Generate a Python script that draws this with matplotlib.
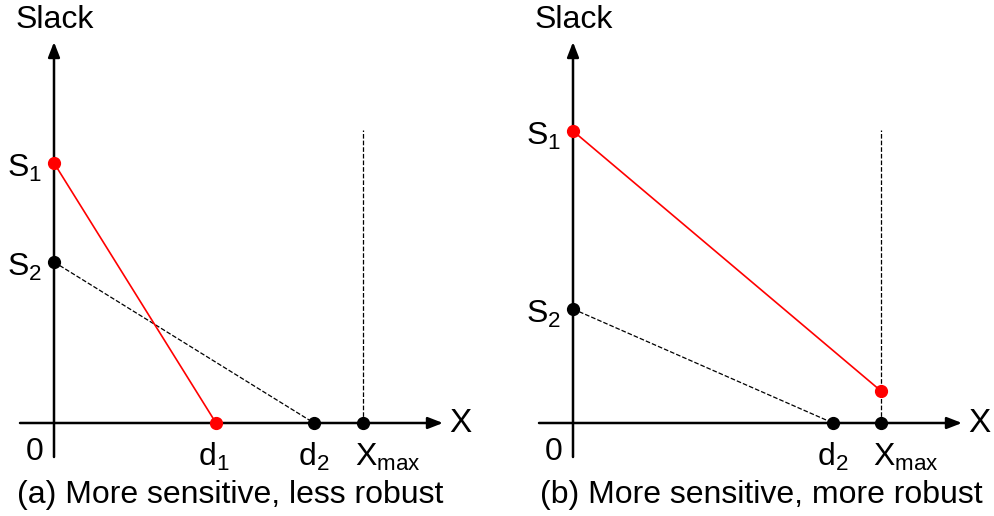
import matplotlib.pyplot as plt

plt.rcParams['font.family'] = ['Liberation Sans', 'DejaVu Sans']
plt.rcParams['mathtext.default'] = 'regular'

# slack values (y) and distances (x), arbitrary units
a_s1, a_s2 = 2.60, 1.61
a_d1, a_d2, a_xmax = 1.62, 2.60, 3.09
b_s1, b_s2 = 2.92, 1.14
b_end = 0.32
b_d2, b_xmax = 2.60, 3.08
guide_top = 2.93

fig = plt.figure(figsize=(9.94, 5.16), dpi=100)
ax_a = fig.add_axes([0, 0, 0.5, 1])
ax_b = fig.add_axes([0.5, 0, 0.5, 1])
ax_a.set_xlim(-0.54, 4.43)
ax_b.set_xlim(-0.76, 4.21)
FS = 23


def draw_axes(ax, caption, cap_x):
    ax.set_ylim(-0.93, 4.23)
    ax.axis('off')
    arrow = dict(arrowstyle='-|>,head_length=0.9,head_width=0.35', lw=1.8,
                 color='black', shrinkA=0, shrinkB=0)
    ax.annotate('', xy=(3.89, 0), xytext=(-0.34, 0), arrowprops=arrow)
    ax.annotate('', xy=(0, 3.81), xytext=(0, -0.34), arrowprops=arrow)
    ax.text(0.01, 4.03, 'Slack', ha='center', va='center', fontsize=FS)
    ax.text(4.06, 0, 'X', ha='center', va='center', fontsize=FS + 1)
    ax.text(-0.19, -0.29, '0', ha='center', va='center', fontsize=FS)
    ax.text(cap_x, -0.72, caption, ha='center', va='center', fontsize=FS)


def s_label(ax, y, txt):
    ax.text(-0.12, y - 0.05, txt, ha='right', va='center', fontsize=FS)


def x_label(ax, x, txt):
    ax.text(x, -0.34, txt, ha='center', va='center', fontsize=FS)


# (a) steep red line hits zero before d2
draw_axes(ax_a, '(a) More sensitive, less robust', 1.76)
ax_a.plot([a_xmax, a_xmax], [0, guide_top], ls='--', color='black', lw=0.9)
ax_a.plot([0, a_d2], [a_s2, 0], ls='--', color='black', lw=0.9)
ax_a.plot([0, a_d1], [a_s1, 0], color='red', lw=1.2)
ax_a.plot([0, a_d2, a_xmax], [a_s2, 0, 0], 'o', color='black', ms=8.5, zorder=5)
ax_a.plot([0, a_d1], [a_s1, 0], 'o', color='red', ms=8.5, zorder=5)
s_label(ax_a, a_s1, 'S$_1$')
s_label(ax_a, a_s2, 'S$_2$')
x_label(ax_a, a_d1 - 0.02, 'd$_1$')
x_label(ax_a, a_d2, 'd$_2$')
x_label(ax_a, a_xmax + 0.25, 'X$_{max}$')

# (b) red line still positive at Xmax
draw_axes(ax_b, '(b) More sensitive, more robust', 1.88)
ax_b.plot([b_xmax, b_xmax], [0, guide_top], ls='--', color='black', lw=0.9)
ax_b.plot([0, b_d2], [b_s2, 0], ls='--', color='black', lw=0.9)
ax_b.plot([0, b_xmax], [b_s1, b_end], color='red', lw=1.2)
ax_b.plot([0, b_d2, b_xmax], [b_s2, 0, 0], 'o', color='black', ms=8.5, zorder=5)
ax_b.plot([0, b_xmax], [b_s1, b_end], 'o', color='red', ms=8.5, zorder=5)
s_label(ax_b, b_s1, 'S$_1$')
s_label(ax_b, b_s2, 'S$_2$')
x_label(ax_b, b_d2, 'd$_2$')
x_label(ax_b, b_xmax + 0.25, 'X$_{max}$')

fig.savefig('out.png', dpi=100)
